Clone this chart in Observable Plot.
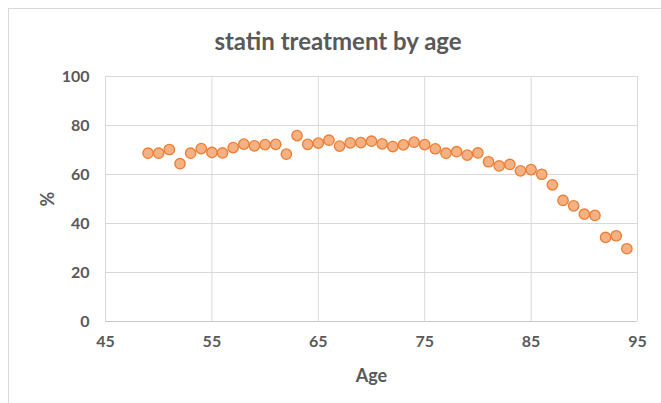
<!DOCTYPE html>
<html><head><meta charset="utf-8">
<script src="https://cdn.jsdelivr.net/npm/d3@7"></script>
<script src="https://cdn.jsdelivr.net/npm/@observablehq/plot@0.6"></script>
<style>
body{margin:0;background:#fff;font-family:Lato,"Open Sans",sans-serif;}
#wrap{position:relative;width:661px;height:403px;overflow:hidden;}
#frame{position:absolute;left:8px;top:8px;width:700px;height:500px;border:1px solid #d9d9d9;box-sizing:border-box;}
#title{position:absolute;left:0;width:676px;top:26px;text-align:center;font-size:24px;font-weight:bold;color:#595959;}
#chart{position:absolute;left:0;top:0;}
</style></head>
<body>
<div id="wrap"><div id="frame"></div><div id="chart"></div><div id="title">statin treatment by age</div></div>
<script>
const ages = [49,50,51,52,53,54,55,56,57,58,59,60,61,62,63,64,65,66,67,68,69,70,71,72,73,74,75,76,77,78,79,80,81,82,83,84,85,86,87,88,89,90,91,92,93,94];
const percents = [68.7,68.7,70.2,64.4,68.7,70.6,69.0,68.8,71.0,72.4,71.7,72.2,72.3,68.3,75.9,72.3,72.8,74.0,71.6,72.9,73.0,73.6,72.5,71.4,72.1,73.2,72.2,70.5,68.7,69.3,67.9,68.8,65.2,63.5,64.1,61.5,62.0,60.1,55.8,49.4,47.2,43.8,43.3,34.3,35.0,29.7];
const xTicks = [45,55,65,75,85,95];
const yTicks = [0,20,40,60,80,100];
const data = ages.map((a,i)=>({age:a, pct:percents[i]}));
const chart = Plot.plot({
  width:661, height:403,
  marginLeft:105, marginRight:24, marginTop:76, marginBottom:82,
  style:{fontFamily:"Lato, 'Open Sans', sans-serif", fontSize:"16px", color:"#595959", background:"transparent"},
  x:{domain:[45,95]},
  y:{domain:[0,100]},
  marks:[
    Plot.gridX(xTicks,{stroke:"#d9d9d9", strokeOpacity:1}),
    Plot.gridY(yTicks,{stroke:"#d9d9d9", strokeOpacity:1}),
    Plot.ruleY([0],{stroke:"#c8c8c8"}),
    Plot.axisX({ticks:xTicks, tickSize:0, tickPadding:14, fontWeight:"bold", fill:"#595959", label:null}),
    Plot.axisX({ticks:[], tickSize:0, label:"Age", labelAnchor:"center", labelArrow:"none", labelOffset:60, fontWeight:"bold", fontSize:18, fill:"#595959"}),
    Plot.axisY({ticks:yTicks, tickSize:0, tickPadding:16, fontWeight:"bold", fill:"#595959", label:null}),
    Plot.axisY({ticks:[], tickSize:0, label:"%", labelAnchor:"center", labelArrow:"none", labelOffset:64, fontWeight:"bold", fontSize:18, fill:"#595959"}),
    Plot.dot(data,{x:"age", y:"pct", r:5.2, fill:"#F4B183", stroke:"#ED7D31", strokeWidth:1.3})
  ]
});
document.getElementById("chart").appendChild(chart);
</script>
</body></html>
